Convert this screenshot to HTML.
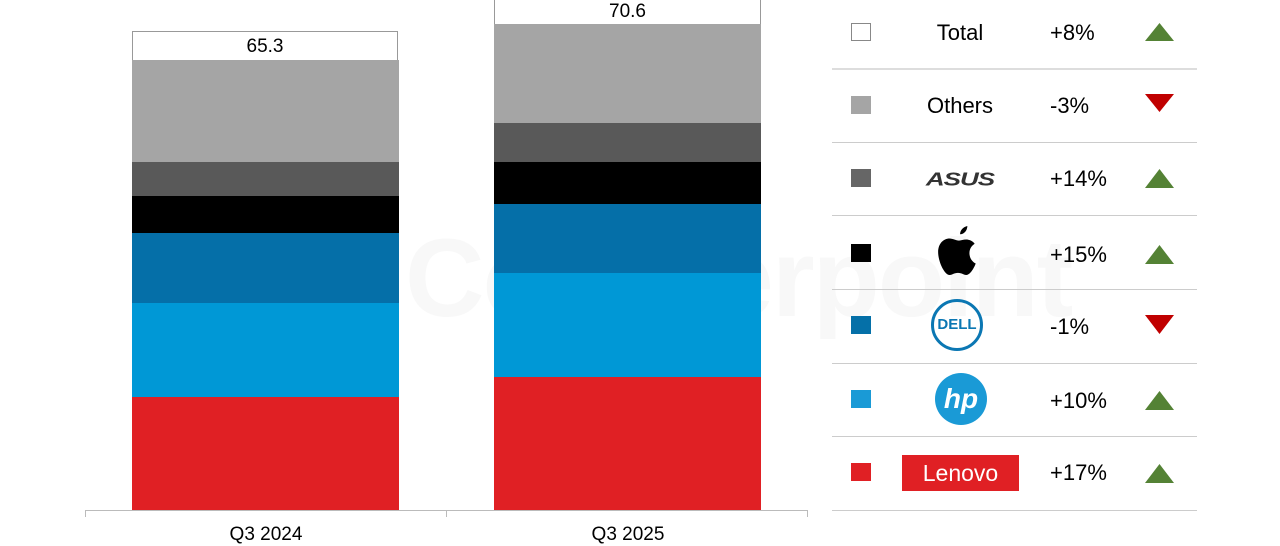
<!DOCTYPE html>
<html><head><meta charset="utf-8"><style>
body{margin:0;width:1280px;height:543px;background:#fff;overflow:hidden;font-family:"Liberation Sans",Arial,sans-serif;}
.a{position:absolute}
</style></head><body>
<div style="position:relative;width:1280px;height:543px">
<!-- watermark -->
<div class="a" style="left:405px;top:215px;font-size:110px;font-weight:bold;color:#f8f8f8;letter-spacing:-2px">Counterpoint</div>
<div class="a" style="left:215px;top:210px;width:120px;height:120px;border:18px solid #f8f8f8;border-radius:50%"></div>
<!-- bar1 -->
<div class="a" style="left:132px;top:31px;width:266px;height:29px;border:1px solid #999;border-bottom:none;box-sizing:border-box;text-align:center;font-size:19px;line-height:30px;background:#fff">65.3</div>
<div class="a" style="left:132px;top:60px;width:267px;height:102px;background:#a5a5a5"></div>
<div class="a" style="left:132px;top:162px;width:267px;height:34px;background:#595959"></div>
<div class="a" style="left:132px;top:196px;width:267px;height:37px;background:#000"></div>
<div class="a" style="left:132px;top:233px;width:267px;height:70px;background:#056fa8"></div>
<div class="a" style="left:132px;top:303px;width:267px;height:94px;background:#0098d6"></div>
<div class="a" style="left:132px;top:397px;width:267px;height:113px;background:#e02024"></div>
<!-- bar2 -->
<div class="a" style="left:494px;top:-1px;width:267px;height:25px;border:1px solid #999;border-bottom:none;box-sizing:border-box;text-align:center;font-size:19px;line-height:24px;background:#fff">70.6</div>
<div class="a" style="left:494px;top:24px;width:267px;height:99px;background:#a5a5a5"></div>
<div class="a" style="left:494px;top:123px;width:267px;height:39px;background:#595959"></div>
<div class="a" style="left:494px;top:162px;width:267px;height:42px;background:#000"></div>
<div class="a" style="left:494px;top:204px;width:267px;height:69px;background:#056fa8"></div>
<div class="a" style="left:494px;top:273px;width:267px;height:104px;background:#0098d6"></div>
<div class="a" style="left:494px;top:377px;width:267px;height:133px;background:#e02024"></div>
<!-- axis -->
<div class="a" style="left:85px;top:510px;width:723px;height:1px;background:#bbb"></div>
<div class="a" style="left:85px;top:510px;width:1px;height:7px;background:#bbb"></div>
<div class="a" style="left:446px;top:510px;width:1px;height:7px;background:#bbb"></div>
<div class="a" style="left:807px;top:510px;width:1px;height:7px;background:#bbb"></div>
<div class="a" style="left:166px;top:524px;width:200px;text-align:center;font-size:19px">Q3 2024</div>
<div class="a" style="left:528px;top:524px;width:200px;text-align:center;font-size:19px">Q3 2025</div>
<!-- legend lines -->
<div class="a" style="left:832px;top:68px;width:365px;height:2px;background:#ddd"></div>
<div class="a" style="left:832px;top:142px;width:365px;height:1px;background:#ccc"></div>
<div class="a" style="left:832px;top:215px;width:365px;height:1px;background:#ccc"></div>
<div class="a" style="left:832px;top:289px;width:365px;height:1px;background:#ccc"></div>
<div class="a" style="left:832px;top:363px;width:365px;height:1px;background:#ccc"></div>
<div class="a" style="left:832px;top:436px;width:365px;height:1px;background:#ccc"></div>
<div class="a" style="left:832px;top:510px;width:365px;height:1px;background:#ccc"></div>
<!-- squares -->
<div class="a" style="left:851px;top:23px;width:20px;height:18px;border:1px solid #888;box-sizing:border-box"></div>
<div class="a" style="left:851px;top:96px;width:20px;height:18px;background:#a5a5a5"></div>
<div class="a" style="left:851px;top:169px;width:20px;height:18px;background:#666"></div>
<div class="a" style="left:851px;top:244px;width:20px;height:18px;background:#000"></div>
<div class="a" style="left:851px;top:316px;width:20px;height:18px;background:#0570a8"></div>
<div class="a" style="left:851px;top:390px;width:20px;height:18px;background:#1a9ad6"></div>
<div class="a" style="left:851px;top:463px;width:20px;height:18px;background:#e02024"></div>
<!-- names -->
<div class="a" style="left:900px;top:20px;width:120px;text-align:center;font-size:22px">Total</div>
<div class="a" style="left:900px;top:93px;width:120px;text-align:center;font-size:22px">Others</div>
<div class="a" style="left:912px;top:164px;width:96px;text-align:center;font-size:26px;font-weight:bold;font-style:italic;color:#333;letter-spacing:-1px;transform:scaleY(0.7)">ASUS</div>
<div class="a" style="left:935px;top:222px;width:48px;height:58px">
<svg width="48" height="58" viewBox="0 0 46 52"><path d="M31 2c-4 1-7 4-7 8 4 0 7-4 7-8z" fill="#000"/><path d="M23 16c-3 0-6-2-9-2-6 0-11 5-11 13 0 9 6 22 11 22 3 0 4-2 8-2s5 2 8 2c4 0 8-8 9-11-4-2-6-6-6-10 0-4 2-7 5-9-2-3-6-4-8-4-3 0-5 1-7 1z" fill="#000"/></svg></div>
<div class="a" style="left:931px;top:299px;width:52px;height:52px;border:3px solid #0b77b3;border-radius:50%;box-sizing:border-box;text-align:center;line-height:46px;font-size:15px;font-weight:bold;color:#0b77b3">DELL</div>
<div class="a" style="left:935px;top:373px;width:52px;height:52px;background:#1a9ad6;border-radius:50%;text-align:center;line-height:52px;font-size:28px;font-weight:bold;font-style:italic;color:#fff">hp</div>
<div class="a" style="left:902px;top:455px;width:117px;height:36px;background:#e02024;color:#fff;text-align:center;line-height:36px;font-size:23px">Lenovo</div>
<!-- pct -->
<div class="a" style="left:1050px;top:20px;font-size:22px">+8%</div>
<div class="a" style="left:1050px;top:93px;font-size:22px">-3%</div>
<div class="a" style="left:1050px;top:166px;font-size:22px">+14%</div>
<div class="a" style="left:1050px;top:242px;font-size:22px">+15%</div>
<div class="a" style="left:1050px;top:314px;font-size:22px">-1%</div>
<div class="a" style="left:1050px;top:388px;font-size:22px">+10%</div>
<div class="a" style="left:1050px;top:460px;font-size:22px">+17%</div>
<!-- triangles -->
<svg class="a" style="left:1140px;top:0" width="40" height="510">
<polygon points="5,41 34,41 19.5,23" fill="#548235"/>
<polygon points="5,94 34,94 19.5,112" fill="#c00000"/>
<polygon points="5,188 34,188 19.5,169" fill="#548235"/>
<polygon points="5,264 34,264 19.5,245" fill="#548235"/>
<polygon points="5,315 34,315 19.5,334" fill="#c00000"/>
<polygon points="5,410 34,410 19.5,391" fill="#548235"/>
<polygon points="5,483 34,483 19.5,464" fill="#548235"/>
</svg>
</div>
</body></html>
